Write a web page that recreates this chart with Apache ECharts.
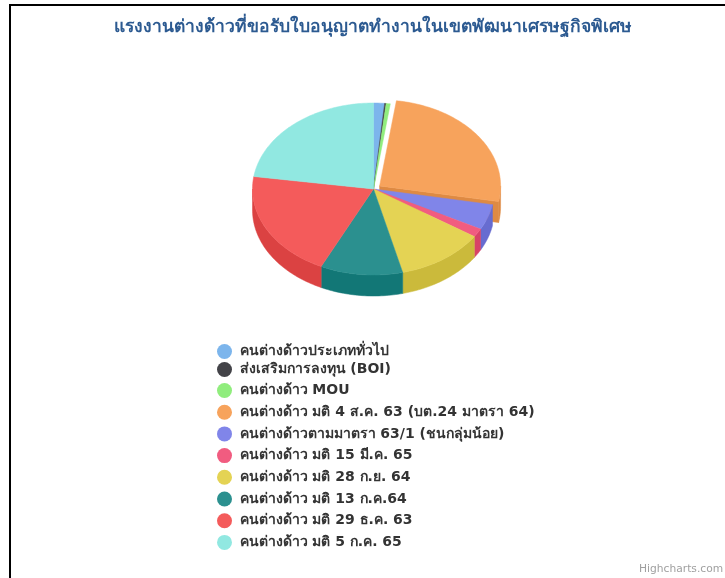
<!DOCTYPE html>
<html>
<head>
<meta charset="utf-8">
<style>
  html, body { margin: 0; padding: 0; background: #fff; }
  #chart { width: 725px; height: 578px; }
</style>
<script src="https://cdn.jsdelivr.net/npm/echarts@6/dist/echarts.min.js"></script>
</head>
<body>
<div id="chart"></div>
<script>
  const categories = [
    'คนต่างด้าวประเภททั่วไป',
    'ส่งเสริมการลงทุน (BOI)',
    'คนต่างด้าว MOU',
    'คนต่างด้าว มติ 4 ส.ค. 63 (บต.24 มาตรา 64)',
    'คนต่างด้าวตามมาตรา 63/1 (ชนกลุ่มน้อย)',
    'คนต่างด้าว มติ 15 มี.ค. 65',
    'คนต่างด้าว มติ 28 ก.ย. 64',
    'คนต่างด้าว มติ 13 ก.ค.64',
    'คนต่างด้าว มติ 29 ธ.ค. 63',
    'คนต่างด้าว มติ 5 ก.ค. 65'
  ]
  const values = [1.47, 0.2, 0.55, 25.7, 4.8, 1.6, 11.8, 11.0, 20.2, 22.68]
  const colors = ['#7cb5ec', '#434348', '#90ed7d', '#f7a35c', '#8085e9', '#f15c80', '#e4d354', '#2b908f', '#f45b5b', '#91e8e1']
  const sliced = 3   // the slice pulled out of the pie

  const cx = 373.5, cy = 189, rx = 121, ry = 86, depth = 21, sliceOffset = 7.5
  const total = values.reduce((a, b) => a + b, 0)

  function darken(hex) {
    const n = parseInt(hex.slice(1), 16)
    const c = [n >> 16, (n >> 8) & 255, n & 255].map(v => Math.max(0, v - 25))
    return 'rgb(' + c.join(',') + ')'
  }

  // angle is measured clockwise from 12 o'clock
  function pt(a, ox, oy, dy) {
    return [cx + ox + rx * Math.sin(a), cy + oy + dy - ry * Math.cos(a)]
  }

  function arc(a0, a1, ox, oy, dy) {
    const steps = Math.max(2, Math.ceil((a1 - a0) / 0.02))
    const out = []
    for (let i = 0; i <= steps; i++) {
      out.push(pt(a0 + (a1 - a0) * i / steps, ox, oy, dy))
    }
    return out
  }

  function renderSlice(index) {
    return function () {
      let before = 0
      for (let i = 0; i < index; i++) before += values[i]
      const a0 = before / total * Math.PI * 2
      const a1 = (before + values[index]) / total * Math.PI * 2
      const mid = (a0 + a1) / 2
      const off = index === sliced ? sliceOffset : 0
      const ox = off * Math.sin(mid)
      const oy = -off * Math.cos(mid) * ry / rx
      const side = darken(colors[index])
      const children = []

      // front wall, only the part of the rim facing the viewer
      const w0 = Math.max(a0, Math.PI / 2)
      const w1 = Math.min(a1, Math.PI * 1.5)
      if (w1 > w0) {
        const top = arc(w0, w1, ox, oy, 0)
        const bottom = arc(w0, w1, ox, oy, depth).reverse()
        children.push({
          type: 'polygon',
          shape: { points: top.concat(bottom) },
          style: { fill: side, stroke: side, lineWidth: 0.5 }
        })
      }
      // cut face of the pulled out slice
      if (off) {
        const e = pt(a1, ox, oy, 0)
        children.push({
          type: 'polygon',
          shape: { points: [[cx + ox, cy + oy], e, [e[0], e[1] + depth], [cx + ox, cy + oy + depth]] },
          style: { fill: side, stroke: side, lineWidth: 0.5 }
        })
      }
      children.push({
        type: 'polygon',
        shape: { points: [[cx + ox, cy + oy]].concat(arc(a0, a1, ox, oy, 0)) },
        style: { fill: colors[index], stroke: colors[index], lineWidth: 0.5 }
      })
      return { type: 'group', children: children }
    }
  }

  const legendText = { fontFamily: '"DejaVu Sans", "Noto Sans", sans-serif', fontSize: 14, fontWeight: 'bold', color: '#333333' }

  const chart = echarts.init(document.getElementById('chart'))
  chart.setOption({
    animation: false,
    title: [
      {
        text: 'แรงงานต่างด้าวที่ขอรับใบอนุญาตทำงานในเขตพัฒนาเศรษฐกิจพิเศษ',
        left: 368,
        top: 13,
        textAlign: 'center',
        textStyle: { fontFamily: '"Liberation Sans", sans-serif', fontSize: 17.5, fontWeight: 'bold', color: '#2c5a91' }
      },
      {
        text: 'Highcharts.com',
        left: 634,
        top: 559,
        textStyle: { fontFamily: '"DejaVu Sans", sans-serif', fontSize: 10.7, fontWeight: 'normal', color: '#a0a0a0' }
      }
    ],
    legend: [
      {
        data: categories.slice(0, 2),
        orient: 'vertical',
        left: 217,
        top: 344,
        itemGap: 3,
        itemWidth: 20,
        itemHeight: 15,
        icon: 'circle',
        padding: 0,
        selectedMode: false,
        textStyle: legendText
      },
      {
        data: categories.slice(2),
        orient: 'vertical',
        left: 217,
        top: 383,
        itemGap: 6.7,
        itemWidth: 20,
        itemHeight: 15,
        icon: 'circle',
        padding: 0,
        selectedMode: false,
        textStyle: legendText
      }
    ],
    graphic: [
      { type: 'line', shape: { x1: 10, y1: 4, x2: 10, y2: 578 }, style: { stroke: '#000', lineWidth: 2 } },
      { type: 'line', shape: { x1: 9, y1: 5, x2: 725, y2: 5 }, style: { stroke: '#000', lineWidth: 2 } }
    ],
    series: categories.map((name, i) => ({
      type: 'custom',
      name: name,
      coordinateSystem: 'none',
      z: i === sliced ? 1 : 2,
      itemStyle: { color: colors[i] },
      data: [values[i]],
      renderItem: renderSlice(i)
    }))
  })
</script>
</body>
</html>
